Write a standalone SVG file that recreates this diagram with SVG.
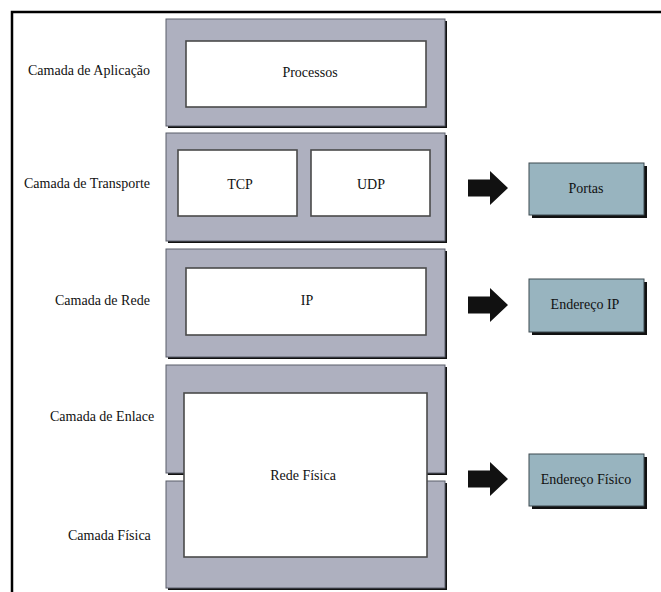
<svg xmlns="http://www.w3.org/2000/svg" xmlns:xlink="http://www.w3.org/1999/xlink" width="661" height="592" viewBox="0 0 661 592">
  <style>
    .layer { fill: #aeb0bf; stroke: #5a5e6a; stroke-width: 1; }
    .shadow { fill: #111; }
    .inner { fill: #ffffff; stroke: #4a4a4a; stroke-width: 1.6; }
    .addr { fill: #98b4bf; stroke: #3c4a50; stroke-width: 1; }
    .mid { text-anchor: middle; }
    .arrow { fill: #111; }
  </style>
  <defs>
    <!-- block arrow, centred vertically on y=0 -->
    <path id="blockArrow" d="M468,-8.5 L490,-8.5 L490,-17 L508,0 L490,17 L490,8.5 L468,8.5 Z"/>
  </defs>

  <rect width="661" height="592" fill="#ffffff"/>
  <!-- outer frame (open to the right and bottom) -->
  <path d="M12,592 L12,12 L661,12" fill="none" stroke="#000" stroke-width="2.5"/>

  <g font-family="'Liberation Serif', 'DejaVu Serif', serif" font-size="14" fill="#111">
    <!-- protocol stack layers -->
    <g id="layer-aplicacao">
      <rect class="shadow" x="168" y="21" width="279" height="107"/>
      <rect class="layer" x="166" y="19" width="279" height="107"/>
      <text x="28" y="75">Camada de Aplicação</text>
    </g>
    <g id="processos">
      <rect class="inner" x="186" y="41" width="240" height="66"/>
      <text class="mid" x="310" y="77">Processos</text>
    </g>

    <g id="layer-transporte">
      <rect class="shadow" x="168" y="135" width="279" height="108"/>
      <rect class="layer" x="166" y="133" width="279" height="108"/>
      <text x="24" y="188">Camada de Transporte</text>
    </g>
    <g id="tcp">
      <rect class="inner" x="178" y="150" width="119" height="66"/>
      <text class="mid" x="240" y="189">TCP</text>
    </g>
    <g id="udp">
      <rect class="inner" x="311" y="150" width="119" height="66"/>
      <text class="mid" x="371" y="189">UDP</text>
    </g>

    <g id="layer-rede">
      <rect class="shadow" x="168" y="251" width="279" height="108"/>
      <rect class="layer" x="166" y="249" width="279" height="108"/>
      <text x="55" y="305">Camada de Rede</text>
    </g>
    <g id="ip">
      <rect class="inner" x="186" y="268" width="240" height="67"/>
      <text class="mid" x="307" y="305">IP</text>
    </g>

    <g id="layer-enlace">
      <rect class="shadow" x="168" y="367" width="279" height="108"/>
      <rect class="layer" x="166" y="365" width="279" height="108"/>
      <text x="50" y="421">Camada de Enlace</text>
    </g>

    <g id="layer-fisica">
      <rect class="shadow" x="168" y="483" width="279" height="107"/>
      <rect class="layer" x="166" y="481" width="279" height="107"/>
      <text x="68" y="540">Camada Física</text>
    </g>
    <g id="rede-fisica">
      <rect class="inner" x="184" y="393" width="243" height="164"/>
      <text class="mid" x="303" y="480">Rede Física</text>
    </g>

    <!-- addressing boxes -->
    <g id="portas">
      <rect class="shadow" x="532" y="166" width="115" height="52"/>
      <rect class="addr" x="529" y="163" width="115" height="52"/>
      <text class="mid" x="586" y="193">Portas</text>
    </g>
    <g id="endereco-ip">
      <rect class="shadow" x="532" y="282" width="115" height="53"/>
      <rect class="addr" x="529" y="279" width="115" height="53"/>
      <text class="mid" x="585" y="309">Endereço IP</text>
    </g>
    <g id="endereco-fisico">
      <rect class="shadow" x="532" y="457" width="115" height="52"/>
      <rect class="addr" x="529" y="454" width="115" height="52"/>
      <text class="mid" x="586" y="484">Endereço Físico</text>
    </g>
  </g>

  <!-- connectors -->
  <g id="connectors">
    <use xlink:href="#blockArrow" class="arrow" transform="translate(0,188)"/>
    <use xlink:href="#blockArrow" class="arrow" transform="translate(0,305)"/>
    <use xlink:href="#blockArrow" class="arrow" transform="translate(0,479)"/>
  </g>
</svg>
